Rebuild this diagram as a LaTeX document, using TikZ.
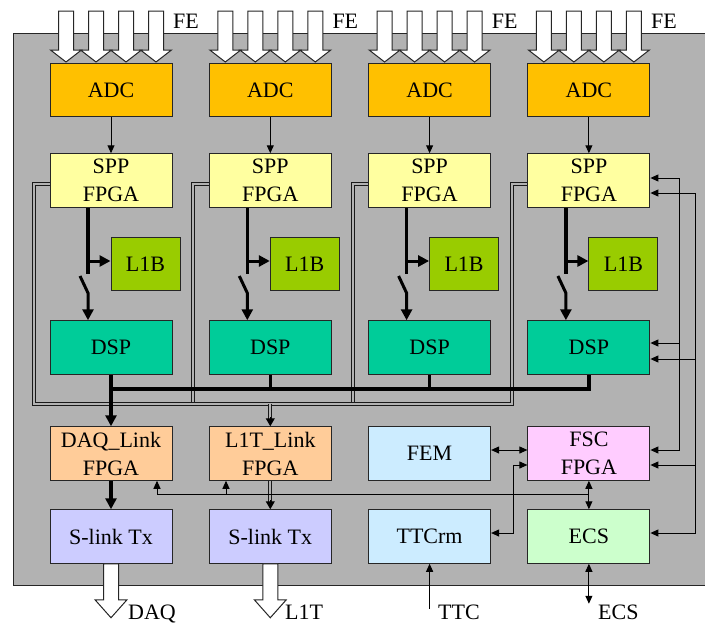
\documentclass[tikz,border=0pt]{standalone}
\usepackage{fontspec}
\setmainfont{Liberation Serif}
\usetikzlibrary{arrows.meta}
\definecolor{bgcolor}{RGB}{178,178,178}
\definecolor{adccolor}{RGB}{255,192,0}
\definecolor{sppcolor}{RGB}{255,255,160}
\definecolor{l1bcolor}{RGB}{153,204,0}
\definecolor{dspcolor}{RGB}{0,204,153}
\definecolor{linkcolor}{RGB}{255,204,153}
\definecolor{slinkcolor}{RGB}{204,204,255}
\definecolor{femcolor}{RGB}{204,236,255}
\definecolor{fsccolor}{RGB}{255,204,255}
\definecolor{ecscolor}{RGB}{204,255,204}

\begin{document}
\begin{tikzpicture}[
    x=1pt, y=-1pt,
    font=\fontsize{22}{28}\selectfont,
    box/.style={draw=black!85, line width=1pt, minimum width=122pt, minimum height=53.5pt, inner sep=0pt, align=center},
    lab/.style={inner sep=0pt, anchor=base west},
    arrow/.style={-{Triangle[length=8pt,width=7pt]}, line width=1pt},
    backarrow/.style={{Triangle[length=8pt,width=7pt]}-, line width=1pt},
    twoway/.style={{Triangle[length=8pt,width=7pt]}-{Triangle[length=8pt,width=7pt]}, line width=1pt},
    thickarrow/.style={-{Triangle[length=11pt,width=11pt]}, line width=3.5pt},
    tip/.style={-{Triangle[length=8pt,width=9pt]}, line width=1pt},
    bus/.style={line width=3.5pt},
    frame/.style={draw=black!90, double=bgcolor, double distance=2pt, line width=1pt},
    hollow/.style={draw=black!85, fill=white, line width=1pt}
]
    \useasboundingbox (0,0) rectangle (705,624);
    \draw[fill=bgcolor, draw=black!85, line width=1pt] (13,33) rectangle (712,585);

    \foreach \i/\c in {1/111,2/270.3,3/429.6,4/588.9}{
        \node[box, fill=adccolor] (adc\i) at (\c,90) {ADC};
        \node[box, fill=sppcolor] (spp\i) at (\c,180.5) {SPP\\FPGA};
        \node[box, fill=l1bcolor, minimum width=69pt] (l1b\i) at (\c+34.5,264) {L1B};
        \node[box, fill=dspcolor] (dsp\i) at (\c,347.5) {DSP};
        \node[lab] (fe\i) at (\c+62,28) {FE};
        \foreach \k in {-45,-15,15,45}
            \draw[hollow] (\c+\k-7.5,11) -- (\c+\k-7.5,50) -- (\c+\k-15.5,50) -- (\c+\k,62)
                -- (\c+\k+15.5,50) -- (\c+\k+7.5,50) -- (\c+\k+7.5,11) -- cycle;
        \coordinate (a\i) at (\c-23,261);
        \coordinate (b\i) at (\c-23,274);
        \coordinate (s\i) at (\c-31,276);
        \coordinate (t\i) at (\c-23,293);
        \coordinate (j\i) at (\c,389);
        \coordinate (f\i) at (\c-77,403.5);
        \draw[arrow] (adc\i) -- (spp\i);
        \draw[bus] (spp\i.south -| a\i) -- (b\i);
        \draw[thickarrow, line width=3pt] (a\i) -- (a\i -| l1b\i.west);
        \draw[thickarrow, line width=3pt] (s\i) -- (t\i) -- (t\i |- dsp\i.north);
    }

    \node[box, fill=linkcolor] (daqlink) at (111,453.5) {DAQ\_Link\\FPGA};
    \node[box, fill=linkcolor] (l1tlink) at (270.3,453.5) {L1T\_Link\\FPGA};
    \node[box, fill=femcolor] (fem) at (429.6,453.5) {FEM};
    \node[box, fill=fsccolor] (fsc) at (588.9,453.5) {FSC\\FPGA};
    \node[box, fill=slinkcolor] (slink1) at (111,536.5) {S-link Tx};
    \node[box, fill=slinkcolor] (slink2) at (270.3,536.5) {S-link Tx};
    \node[box, fill=femcolor] (ttcrm) at (429.6,536.5) {TTCrm};
    \node[box, fill=ecscolor] (ecs) at (588.9,536.5) {ECS};

    \node[lab] (daq) at (128,619) {DAQ};
    \node[lab] (l1t) at (285,619) {L1T};
    \node[lab] (ttc) at (438,619) {TTC};
    \node[lab] (ecsout) at (598,619) {ECS};

    \coordinate (ttcbend) at (513,465);
    \coordinate (ctl) at (588.9,494);
    \coordinate (d1) at (157,494);
    \coordinate (d2) at (226,494);
    \coordinate (r1) at (679,178);
    \coordinate (r2) at (695,193);

    \draw[frame] ([yshift=-3.5pt]spp2.west) -| (f2);
    \draw[frame] ([yshift=-3.5pt]spp3.west) -| (f3);
    \draw[frame] ([yshift=-3.5pt]spp1.west) -| (f1) -- (f4) |- ([yshift=-3.5pt]spp4.west);
    \draw[frame, shorten >=7pt] (f1 -| l1tlink) -- (l1tlink);
    \draw[tip] ([yshift=9pt]l1tlink.north) -- (l1tlink.north);

    \draw[bus] (dsp2.south) -- (j2);
    \draw[bus] (dsp3.south) -- (j3);
    \draw[bus] (dsp4.south) -- (j4) -- (j1);
    \draw[thickarrow] (dsp1.south) -- (daqlink);

    \draw[thickarrow] (daqlink) -- (slink1);
    \draw[frame, shorten >=7pt] (l1tlink) -- (slink2);
    \draw[tip] ([yshift=9pt]slink2.north) -- (slink2.north);

    \draw[twoway] ([yshift=3.5pt]fem.east) -- ([yshift=3.5pt]fsc.west);
    \draw[twoway] ([yshift=3.5pt]ttcrm.east) -| (ttcbend) -- (ttcbend -| fsc.west);
    \draw[twoway] (fsc) -- (ecs);
    \draw[line width=1pt] (ctl) -- (d1);
    \draw[arrow] (d1) -- (d1 |- daqlink.south);
    \draw[arrow] (d2) -- (d2 |- l1tlink.south);

    \draw[twoway] ([yshift=3.5pt]fsc.east) -| (r1) -- (r1 -| spp4.east);
    \draw[twoway] ([yshift=3.5pt]ecs.east) -| (r2) -- (r2 -| spp4.east);
    \draw[backarrow] ([yshift=4.5pt]dsp4.east) -- ++(29.5,0);
    \draw[backarrow] ([yshift=-11.5pt]dsp4.east) -- ++(45.5,0);
    \draw[backarrow] ([yshift=-11.5pt]fsc.east) -- ++(45.5,0);

    \draw[hollow] (slink1.south) ++(-7.5,0) -- ++(0,36) -- ++(-8.5,0) -- ++(16,18) -- ++(16,-18) -- ++(-8.5,0) -- ++(0,-36) -- cycle;
    \draw[hollow] (slink2.south) ++(-7.5,0) -- ++(0,36) -- ++(-8.5,0) -- ++(16,18) -- ++(16,-18) -- ++(-8.5,0) -- ++(0,-36) -- cycle;
    \draw[arrow] ([yshift=-45pt]ttcrm.south) -- (ttcrm);
    \draw[twoway] (ecs) -- ([yshift=-40pt]ecs.south);
\end{tikzpicture}
\end{document}
